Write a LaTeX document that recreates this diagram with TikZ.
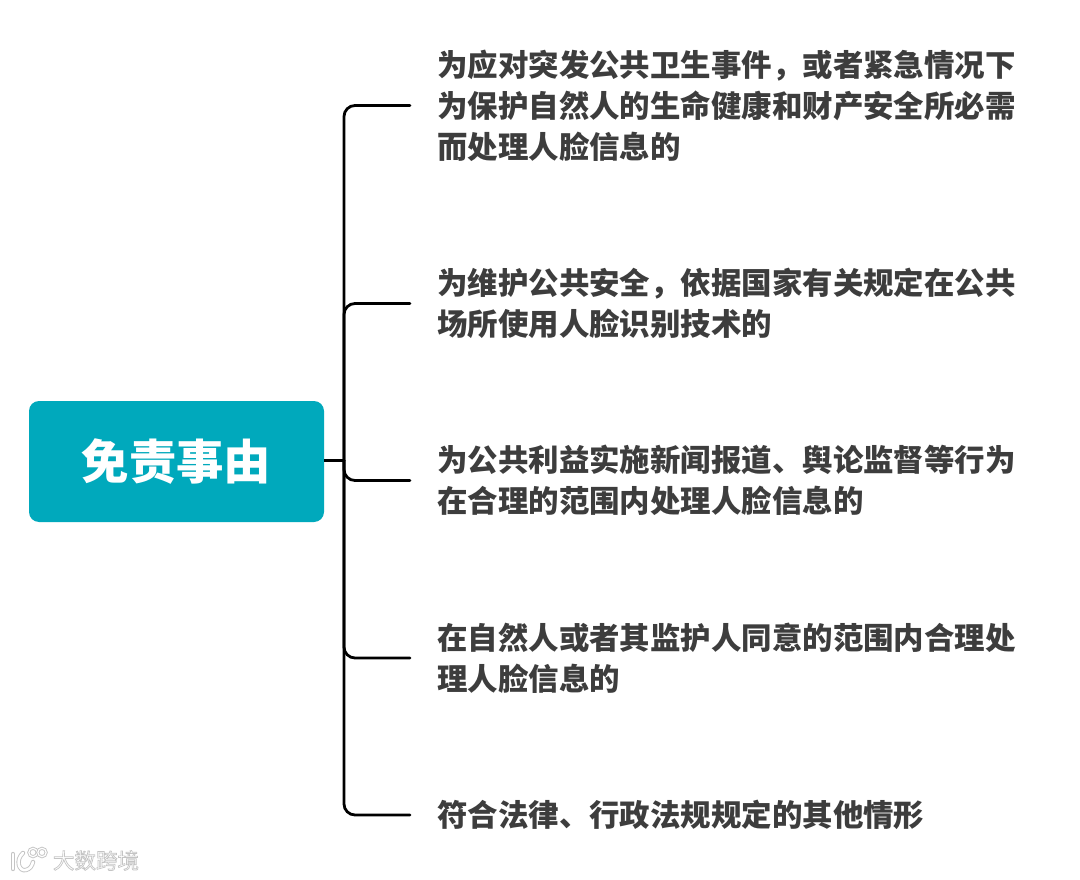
\documentclass[tikz,border=0pt]{standalone}
\usepackage{fontspec}
\newfontfamily\cjk{Noto Sans CJK SC}
\definecolor{rootfill}{HTML}{00A9BC}
\definecolor{leaftext}{HTML}{3D3D3D}
\definecolor{markgray}{HTML}{C4C4C4}
\begin{document}
\begin{tikzpicture}[x=1pt,y=-1pt,
  rootbox/.style={fill=rootfill,rounded corners=10pt,minimum width=295pt,minimum height=121pt,inner sep=0pt,text=white,font=\cjk\bfseries\fontsize{47.4}{48}\selectfont},
  leaf/.style={anchor=west,align=left,inner sep=0pt,text=leaftext,font=\cjk\bfseries\fontsize{30.45}{41}\selectfont},
  branch/.style={line width=2.8pt,rounded corners=11pt,line cap=round},
  stem/.style={line width=2.8pt},
  markt/.style={text=white,inner sep=0pt,font=\cjk\fontsize{21.5}{22}\selectfont},
  logo/.style={draw=markgray,double=white,line width=0.9pt,double distance=2.6pt,line cap=round}]
\useasboundingbox (0,0) rectangle (1080,880);
\fill[white] (0,0) rectangle (1080,880);
\node[rootbox] (root) at (176.5,461.5) {免责事由};
\node[leaf] (a) at (437,105.5) {为应对突发公共卫生事件，或者紧急情况下\\为保护自然人的生命健康和财产安全所必需\\而处理人脸信息的};
\node[leaf] (b) at (437,303.5) {为维护公共安全，依据国家有关规定在公共\\场所使用人脸识别技术的};
\node[leaf] (c) at (437,480.5) {为公共利益实施新闻报道、舆论监督等行为\\在合理的范围内处理人脸信息的};
\node[leaf] (d) at (437,658) {在自然人或者其监护人同意的范围内合理处\\理人脸信息的};
\node[leaf] (e) at (437,815) {符合法律、行政法规规定的其他情形};
\coordinate (j) at (344,460.5);
\draw[stem] (root.east |- j) -- (j);
\foreach \n in {a,b,c,d,e}{
  \draw[branch] (j) |- ([xshift=-27pt]\n.west);
}
\node[markt] (w) at (96,860.5) {\special{pdf:code 2 Tr 0.77 G 0.7 w}大数跨境\special{pdf:code 0 Tr}};
\draw[logo] (13,854) -- (13,869);
\draw[logo] (23,853) .. controls (15,860) and (19,872) .. (26,870) .. controls (30,869) and (32,866) .. (33,862);
\draw[logo,double distance=1.2pt] (33,852.5) circle (4.2);
\draw[logo,double distance=1.2pt] (42,852.5) circle (4.2);
\end{tikzpicture}
\end{document}
